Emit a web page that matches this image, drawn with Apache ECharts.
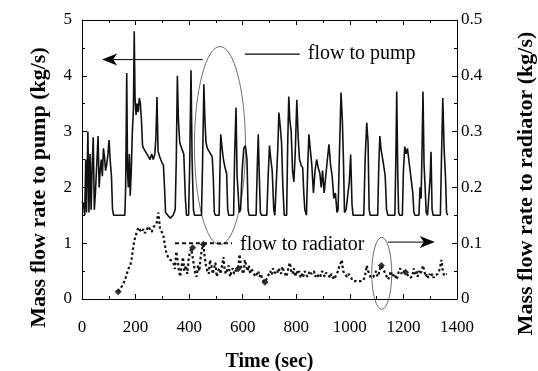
<!DOCTYPE html>
<html><head><meta charset="utf-8">
<script src="https://cdn.jsdelivr.net/npm/echarts@6/dist/echarts.min.js"></script>
<style>html,body{margin:0;padding:0;background:#fff}#c{width:538px;height:371px}</style>
</head><body><div id="c"></div>
<script>
// ---- data ----
const pumpTime = [0,6,10,14,17,22,26,30,34,38,42,46,50,55,60,64,68,72,76,80,84,88,92,97,101,105,110,114,118,160,163,167,170,173,177,180,184,188,192,195,198,202,206,210,214,218,222,226,230,236,242,248,254,260,266,272,276,280,284,290,298,304,308,312,320,330,340,348,352,356,360,365,372,380,386,390,398,402,407,411,416,420,446,450,455,459,463,468,474,480,486,490,494,498,512,515,518,523,528,534,540,544,548,566,570,575,579,583,587,592,598,604,610,616,620,624,650,654,658,662,666,670,690,695,700,705,710,716,720,727,731,735,740,745,750,755,764,768,772,776,781,786,791,796,802,807,812,818,824,828,832,838,843,847,852,858,864,870,876,882,888,893,898,904,910,916,922,928,934,940,946,952,956,961,967,972,976,980,986,993,998,1003,1008,1012,1052,1057,1063,1068,1072,1076,1104,1108,1112,1116,1121,1126,1132,1137,1142,1168,1172,1175,1179,1182,1186,1196,1200,1205,1210,1215,1220,1225,1230,1235,1239,1243,1258,1262,1266,1270,1273,1277,1281,1285,1290,1297,1300,1303,1307,1311,1338,1342,1347,1352,1357,1361,1365];
const pumpFlow = [1.75,1.7,1.5,2.5,1.55,3.0,1.55,2.6,1.6,2.4,2.9,1.6,1.9,2.4,2.92,2.0,2.3,2.5,2.2,2.7,2.55,2.3,2.4,2.6,2.85,2.5,2.2,1.6,1.5,1.5,2.0,4.05,2.3,2.0,2.6,1.85,2.3,3.0,3.4,4.8,3.6,3.3,3.5,3.35,3.6,3.5,3.2,2.75,2.7,2.65,2.6,2.55,2.5,2.6,2.5,2.6,2.9,3.62,2.65,2.55,2.45,2.4,2.0,1.55,1.5,1.45,1.5,1.6,2.5,4.0,3.2,2.8,2.7,2.6,1.8,1.5,1.5,2.4,4.1,2.5,1.6,1.5,1.5,2.4,3.85,3.2,2.8,2.7,2.65,2.6,2.55,2.2,1.55,1.5,1.5,2.3,2.95,2.7,2.5,2.35,2.25,1.6,1.5,1.5,2.6,3.43,2.2,1.9,1.55,1.6,2.3,2.7,2.75,2.5,1.6,1.5,1.5,2.3,2.95,2.2,1.55,1.5,1.5,2.2,2.75,2.5,2.3,1.6,1.5,1.5,2.7,3.34,3.1,2.8,2.0,1.5,1.5,2.8,3.63,3.2,3.0,2.3,2.1,2.6,3.57,2.9,2.5,2.4,2.35,1.9,1.6,1.5,2.4,2.95,2.7,2.4,1.9,2.3,2.5,2.35,2.25,2.0,2.3,1.9,2.2,2.5,2.77,2.4,2.2,1.8,1.9,1.55,1.6,2.6,3.7,3.2,2.5,1.55,1.6,1.9,2.1,2.59,1.7,1.5,1.5,2.5,3.16,2.8,1.6,1.5,1.5,2.4,2.92,2.7,2.55,2.4,2.2,1.6,1.5,1.5,2.6,3.72,2.2,1.55,1.5,1.5,2.3,2.73,2.6,2.7,2.5,2.3,2.1,1.9,1.55,1.5,1.5,2.0,1.8,2.8,3.72,2.4,2.0,1.55,1.5,1.5,2.2,2.64,1.6,1.5,1.5,2.5,3.6,2.68,2.2,1.55,1.5];

const radTime = [135,148,160,173,180,185,192,198,204,210,216,222,229,235,241,247,254,260,266,272,279,285,291,298,304,310,316,322,328,334,341,347,352,357,362,367,372,377,382,388,393,398,403,408,413,418,423,428,433,438,443,448,453,458,463,468,473,478,483,488,493,498,503,508,513,518,523,528,533,538,543,548,553,558,563,568,573,578,583,588,593,598,603,608,613,618,623,628,633,638,643,648,653,658,663,668,673,678,683,688,693,698,703,708,713,718,723,728,733,738,743,748,753,758,763,768,773,776,781,786,791,796,801,806,811,816,821,826,831,836,841,846,851,856,861,866,871,876,881,886,891,896,901,906,911,916,921,926,931,936,941,946,951,956,961,966,970,975,980,985,990,995,1000,1005,1010,1020,1030,1040,1050,1056,1063,1068,1073,1078,1083,1088,1093,1098,1103,1108,1113,1118,1123,1128,1133,1138,1143,1148,1153,1158,1163,1168,1173,1178,1183,1188,1193,1198,1203,1208,1213,1218,1223,1228,1233,1238,1243,1248,1253,1258,1263,1268,1273,1278,1283,1288,1293,1298,1303,1308,1313,1318,1323,1328,1333,1338,1342,1347,1352,1357,1362];
const radFlow = [0.013,0.022,0.033,0.054,0.06,0.071,0.095,0.11,0.119,0.128,0.131,0.12,0.125,0.118,0.122,0.13,0.125,0.12,0.128,0.132,0.137,0.155,0.128,0.12,0.113,0.095,0.08,0.075,0.071,0.068,0.065,0.054,0.085,0.07,0.05,0.04,0.06,0.075,0.05,0.06,0.045,0.07,0.085,0.09,0.092,0.06,0.045,0.04,0.06,0.05,0.075,0.09,0.098,0.075,0.06,0.05,0.045,0.07,0.06,0.045,0.055,0.065,0.04,0.05,0.055,0.045,0.06,0.075,0.05,0.045,0.055,0.06,0.04,0.05,0.055,0.045,0.05,0.05,0.054,0.08,0.06,0.05,0.045,0.07,0.06,0.05,0.06,0.045,0.055,0.048,0.05,0.04,0.045,0.05,0.04,0.045,0.035,0.032,0.03,0.035,0.04,0.045,0.05,0.043,0.055,0.048,0.05,0.045,0.055,0.05,0.045,0.058,0.05,0.045,0.04,0.05,0.06,0.065,0.05,0.045,0.055,0.04,0.05,0.045,0.05,0.038,0.045,0.04,0.05,0.048,0.04,0.045,0.05,0.045,0.042,0.05,0.04,0.045,0.048,0.038,0.042,0.05,0.045,0.04,0.047,0.05,0.043,0.038,0.045,0.04,0.035,0.04,0.045,0.05,0.06,0.065,0.07,0.05,0.045,0.042,0.04,0.045,0.042,0.038,0.033,0.032,0.032,0.032,0.033,0.04,0.06,0.05,0.045,0.038,0.035,0.04,0.045,0.05,0.04,0.045,0.055,0.06,0.055,0.05,0.045,0.04,0.035,0.042,0.05,0.04,0.038,0.045,0.035,0.04,0.05,0.055,0.045,0.05,0.052,0.048,0.045,0.042,0.038,0.036,0.04,0.055,0.045,0.05,0.04,0.05,0.045,0.05,0.06,0.05,0.04,0.045,0.038,0.045,0.04,0.045,0.038,0.042,0.04,0.045,0.05,0.06,0.07,0.05,0.042,0.04,0.045];

const radFlatTime = [347, 560];
const radFlatFlow = [0.1, 0.1];

const radMarkTime = [135, 413, 453, 583, 683, 1118, 1208];
const radMarkFlow = [0.013, 0.092, 0.098, 0.054, 0.03, 0.06, 0.048];

const timeTicks = [0, 200, 400, 600, 800, 1000, 1200, 1400];
const pumpTicks = [0, 1, 2, 3, 4, 5];
const radTicks = [0, 0.1, 0.2, 0.3, 0.4, 0.5];

// ---- chart ----
const FONT = '"Liberation Serif","Times New Roman",serif';
const zip = (a, b) => a.map((v, i) => [v, b[i]]);
const chart = echarts.init(document.getElementById('c'), null, {renderer: 'canvas'});

const lineAxis = {show: true, onZero: false, lineStyle: {color: '#000', width: 1}};
const tick = {show: true, inside: true, length: 5, lineStyle: {color: '#000', width: 1}};
const minor = {show: true, splitNumber: 2, length: 3, lineStyle: {color: '#000', width: 1}};
const lbl = {color: '#000', fontFamily: FONT, fontSize: 17};
const nameStyle = {color: '#000', fontFamily: FONT, fontWeight: 'bold'};

chart.setOption({
  animation: false,
  grid: {left: 82, right: 81, top: 20, bottom: 72, containLabel: false, outerBoundsMode: 'none'},
  xAxis: [
    {type: 'value', min: timeTicks[0], max: timeTicks[timeTicks.length - 1], interval: 200, position: 'bottom',
     axisLine: lineAxis, axisTick: tick, minorTick: minor, splitLine: {show: false},
     axisLabel: Object.assign({margin: 20, formatter: v => String(v)}, lbl),
     name: 'Time (sec)', nameLocation: 'middle', nameGap: 53,
     nameTextStyle: Object.assign({fontSize: 20}, nameStyle)},
    {type: 'value', min: timeTicks[0], max: timeTicks[timeTicks.length - 1], interval: 200, position: 'top',
     axisLine: lineAxis, axisTick: tick, minorTick: minor, splitLine: {show: false},
     axisLabel: {show: false}}
  ],
  yAxis: [
    {type: 'value', min: pumpTicks[0], max: pumpTicks[pumpTicks.length - 1], interval: 1, position: 'left',
     axisLine: lineAxis, axisTick: tick, minorTick: minor, splitLine: {show: false},
     axisLabel: Object.assign({margin: 10}, lbl),
     name: 'Mass flow rate to pump (kg/s)', nameLocation: 'middle', nameGap: 32, nameRotate: 90,
     nameTextStyle: Object.assign({fontSize: 22, padding: [0, 56, 0, 0]}, nameStyle)},
    {type: 'value', min: radTicks[0], max: radTicks[radTicks.length - 1], interval: 0.1, position: 'right',
     axisLine: lineAxis, axisTick: tick, minorTick: minor, splitLine: {show: false},
     axisLabel: Object.assign({margin: 4, formatter: v => v === 0 ? '0' : v.toFixed(1)}, lbl),
     name: 'Mass flow rate to radiator (kg/s)', nameLocation: 'middle', nameGap: 58, nameRotate: 90,
     nameTextStyle: Object.assign({fontSize: 22, padding: [0, 48, 0, 0]}, nameStyle)}
  ],
  series: [
    {name: 'flow to pump', type: 'line', xAxisIndex: 0, yAxisIndex: 0, data: zip(pumpTime, pumpFlow),
     showSymbol: false, symbol: 'none', lineStyle: {color: '#111', width: 1.6}},
    {name: 'flow to radiator', type: 'line', xAxisIndex: 0, yAxisIndex: 1, data: zip(radTime, radFlow),
     showSymbol: false, symbol: 'none', lineStyle: {color: '#111', width: 2.2, type: [2.5, 2.5]}},
    {name: 'radiator level', type: 'line', xAxisIndex: 0, yAxisIndex: 1, data: zip(radFlatTime, radFlatFlow),
     showSymbol: false, symbol: 'none', lineStyle: {color: '#111', width: 2, type: [4, 3]}},
    {name: 'radiator samples', type: 'scatter', xAxisIndex: 0, yAxisIndex: 1, data: zip(radMarkTime, radMarkFlow),
     symbol: 'diamond', symbolSize: 7, itemStyle: {color: '#000'}}
  ]
});

// ---- annotations (anchored in data space of the left axis) ----
const P = (t, v) => chart.convertToPixel({xAxisIndex: 0, yAxisIndex: 0}, [t, v]);
function arrowHead(tip, dir) {
  const [x, y] = tip, L = 15, W = 6, N = 11;
  return {type: 'polygon', shape: {points: [[x, y], [x - dir * L, y - W], [x - dir * N, y], [x - dir * L, y + W]]},
          style: {fill: '#000'}};
}
function ellipse(c, rx, ry) {
  return {type: 'circle', x: c[0], y: c[1], scaleX: rx / ry, shape: {cx: 0, cy: 0, r: ry},
          style: {fill: 'none', stroke: '#000', lineWidth: 0.9, strokeNoScale: true}};
}
const aL0 = P(451, 4.29), aL1 = P(75, 4.29);
const pumpLine0 = P(608, 4.39), pumpLine1 = P(813, 4.39), pumpText = P(843, 4.39);
const pumpEll = P(515, 2.75);
const radText = P(590, 0.98);
const aR0 = P(1142, 1.02), aR1 = P(1317, 1.02);
const radEll = P(1119, 0.46);
const txt = {fill: '#000', font: '20px "Liberation Serif","Times New Roman",serif', verticalAlign: 'middle', align: 'left'};

chart.setOption({
  graphic: [
    {type: 'line', shape: {x1: aL0[0], y1: aL0[1], x2: aL1[0] + 11, y2: aL1[1]}, style: {stroke: '#000', lineWidth: 1}},
    arrowHead(aL1, -1),
    ellipse(pumpEll, 25.5, 99),
    {type: 'line', shape: {x1: pumpLine0[0], y1: pumpLine0[1], x2: pumpLine1[0], y2: pumpLine1[1]}, style: {stroke: '#000', lineWidth: 1.2}},
    {type: 'text', x: pumpText[0], y: pumpText[1], style: Object.assign({text: 'flow to pump'}, txt)},
    {type: 'text', x: radText[0], y: radText[1], style: Object.assign({text: 'flow to radiator'}, txt)},
    {type: 'line', shape: {x1: aR0[0], y1: aR0[1], x2: aR1[0] - 11, y2: aR1[1]}, style: {stroke: '#000', lineWidth: 1}},
    arrowHead(aR1, 1),
    ellipse(radEll, 10, 36)
  ]
});
</script>
</body></html>
